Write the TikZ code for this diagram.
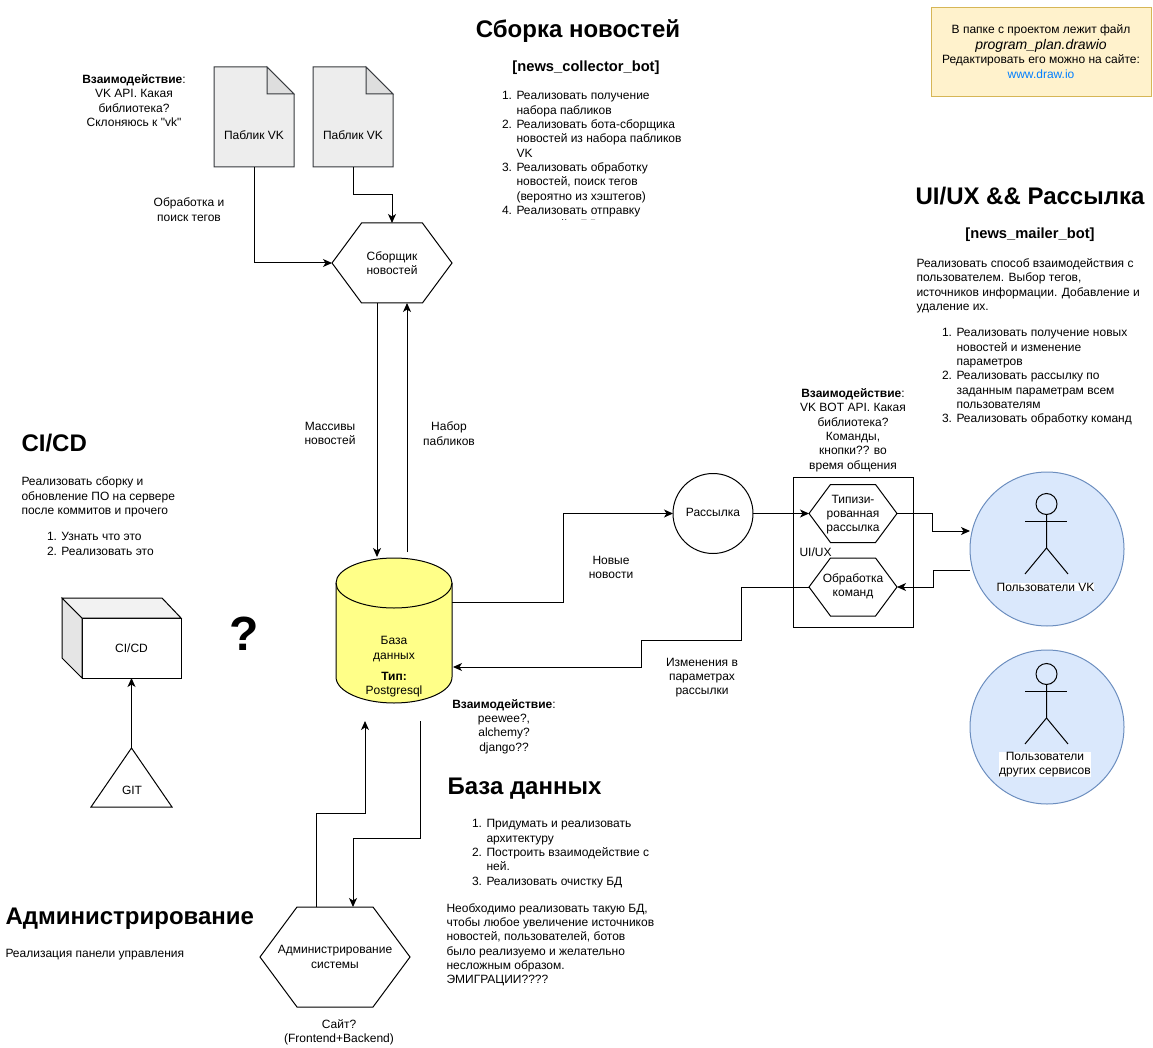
\documentclass[tikz,border=0pt]{standalone}
\usepackage{fontspec}
\setmainfont[Ligatures=TeXOff]{Liberation Sans}
\usetikzlibrary{arrows.meta, shapes.symbols}
\definecolor{notefill}{HTML}{FFF2CC}
\definecolor{noteline}{HTML}{D6B656}
\definecolor{userfill}{HTML}{DAE8FC}
\definecolor{userline}{HTML}{6C8EBF}
\definecolor{dbfill}{HTML}{FFFF88}
\definecolor{paperline}{HTML}{36393D}
\definecolor{linkblue}{HTML}{007FFF}
\tikzset{
  txt/.style={font=\fontsize{12}{14.33}\selectfont, align=center, inner sep=0pt},
  ltxt/.style={txt, align=left, anchor=north west},
  head/.style={font=\bfseries\fontsize{24}{28}\selectfont, inner sep=0pt},
  subhead/.style={font=\bfseries\fontsize{14.7}{16}\selectfont, inner sep=0pt},
  hexa/.style={draw, fill=white, shape=signal, signal to=west and east, signal pointer angle=107, inner sep=0pt, outer sep=0pt},
  arr/.style={-{Stealth[length=9pt,width=8pt,inset=2.5pt]}},
  paper/.style={draw=paperline, fill=black!7},
  fold/.style={draw=paperline, fill=black!13},
  users/.style={circle, draw=userline, fill=userfill, minimum size=154pt, inner sep=0pt, outer sep=0pt},
  whitetxt/.style={txt, fill=white}
}
\begin{document}
\begin{tikzpicture}[x=1pt,y=-1pt,line width=1pt]
\useasboundingbox (0,0) rectangle (1153,1048);
% top left: sources
\node[minimum width=80pt,minimum height=100pt,outer sep=0pt] (pub1) at (254,117) {};
\node[minimum width=80pt,minimum height=100pt,outer sep=0pt] (pub2) at (353,117) {};
\draw[paper] (pub1.north west) -- ++(53,0) -- ++(27,27) -- (pub1.south east) -- (pub1.south west) -- cycle;
\draw[fold] (pub1.north west) ++(53,0) -- ++(27,27) -- ++(-27,0) -- cycle;
\draw[paper] (pub2.north west) -- ++(53,0) -- ++(27,27) -- (pub2.south east) -- (pub2.south west) -- cycle;
\draw[fold] (pub2.north west) ++(53,0) -- ++(27,27) -- ++(-27,0) -- cycle;
\node[txt] (pub1txt) at (254,135.5) {Паблик VK};
\node[txt] (pub2txt) at (353,135.5) {Паблик VK};
\node[txt] (vkapi) at (134,100.5) {\textbf{Взаимодействие}:\\VK API. Какая\\библиотека?\\Склоняюсь к "vk"};
\node[txt] (tags) at (189,209.5) {Обработка и\\поиск тегов};
\node[hexa,minimum width=120pt,minimum height=80pt] (coll) at (392,263) {};
\node[txt] (colltxt) at (392,263) {Сборщик\\новостей};
\draw[arr] (pub1.south) |- (coll.west);
\draw[arr] (pub2.south) -- ++(0,28) -| (coll.north);
% collector text
\node[head] (collhead) at (578,31) {Сборка новостей};
\node[subhead] (collbot) at (586,67.5) {[news\_collector\_bot]};
\begin{scope}
\clip (450,80) rectangle (750,220);
\node[ltxt] (colllist) at (516,91) {\llap{1. }Реализовать получение\\набора пабликов\\\llap{2. }Реализовать бота-сборщика\\новостей из набора пабликов\\VK\\\llap{3. }Реализовать обработку\\новостей, поиск тегов\\(вероятно из хэштегов)\\\llap{4. }Реализовать отправку\\новостей в БД};
\end{scope}
% database
\node[minimum width=116pt,minimum height=145pt,outer sep=0pt] (db) at (394,630.5) {};
\draw[fill=dbfill] (336,583) arc[start angle=180,end angle=0,x radius=58pt,y radius=25pt] -- (452,677) arc[start angle=0,end angle=-180,x radius=58pt,y radius=26pt] -- cycle;
\draw (336,583) arc[start angle=180,end angle=360,x radius=58pt,y radius=25pt];
\node[txt] (dbname) at (394,649) {База\\данных};
\node[txt] (dbtype) at (394,684.5) {\textbf{Тип:}\\Postgresql};
\coordinate (dbin) at (377,557);
\coordinate (dbout) at (407,552);
\coordinate (dbnews) at (452,602);
\coordinate (dbback) at (453,667);
\draw[arr] (dbin |- coll.south) -- (dbin);
\draw[arr] (dbout) -- (dbout |- coll.south);
\node[txt] (massive) at (330,433.5) {Массивы\\новостей};
\node[txt] (nabor) at (449,433.5) {Набор\\пабликов};
\node[txt] (dbapi) at (504,726.5) {\textbf{Взаимодействие}:\\peewee?,\\alchemy?\\django??};
% mailing
\node[circle,draw,minimum size=80pt,inner sep=0pt,outer sep=0pt] (mail) at (713,513.5) {};
\node[txt] (mailtxt) at (713,512.5) {Рассылка};
\node[draw,minimum width=120pt,minimum height=150pt,outer sep=0pt] (uibox) at (853,552) {};
\node[hexa,minimum width=88pt,minimum height=58pt] (hex1) at (853,513.5) {};
\node[hexa,minimum width=88pt,minimum height=58pt] (hex2) at (853,587) {};
\node[txt] (hex1txt) at (853,514.5) {Типизи-\\рованная\\рассылка};
\node[txt] (hex2txt) at (853,586) {Обработка\\команд};
\node[txt,anchor=west] (uilabel) at (799,552) {UI/UX};
\node[txt] (botapi) at (853,430) {\textbf{Взаимодействие}:\\VK BOT API. Какая\\библиотека?\\Команды,\\кнопки?? во\\время общения};
\node[txt] (newnews) at (611,567.5) {Новые\\новости};
\node[txt] (params) at (702,677.5) {Изменения в\\параметрах\\рассылки};
\draw[arr] (dbnews) -- ++(111,0) |- (mail.west);
\draw[arr] (mail.east) -- (hex1.west);
\draw[arr] (hex2.west) -- ++(-68,0) -- ++(0,53) -- ++(-100,0) |- (dbback);
% users
\node[users] (vkusers) at (1047,549) {};
\node[users] (otherusers) at (1047,727) {};
\coordinate (vkin) at (970,531);
\coordinate (vkout) at (970,570);
\draw[arr] (hex1.east) -- ++(35,0) |- (vkin);
\draw[arr] (vkout) -- ++(-37,0) |- (hex2.east);
\draw (1046.5,504) circle[radius=10.5pt];
\draw (1046.5,514.5) -- (1046.5,548) -- (1025,574);
\draw (1046.5,548) -- (1068,574);
\draw (1025,521) -- (1067,521);
\draw (1046.5,674) circle[radius=10.5pt];
\draw (1046.5,684.5) -- (1046.5,718) -- (1025,744);
\draw (1046.5,718) -- (1068,744);
\draw (1025,691) -- (1067,691);
\node[whitetxt] (vklabel) at (1045.5,587) {Пользователи VK};
\node[whitetxt] (otherlabel) at (1045,764.5) {Пользователи\\других сервисов};
\node[head] (uihead) at (1030,196) {UI/UX \&\& Рассылка};
\node[subhead] (uibot) at (1030,234.5) {[news\_mailer\_bot]};
\node[ltxt] (uipara) at (916,258) {Реализовать способ взаимодействия с\\пользователем. Выбор тегов,\\источников информации. Добавление и\\удаление их.};
\node[ltxt] (uilist) at (956,328) {\llap{1. }Реализовать получение новых\\новостей и изменение\\параметров\\\llap{2. }Реализовать рассылку по\\заданным параметрам всем\\пользователям\\\llap{3. }Реализовать обработку команд};
% note
\node[draw=noteline,fill=notefill,minimum width=220pt,minimum height=89pt,outer sep=0pt] (note) at (1041,52.5) {};
\node[txt] (notetext) at (1041,51.5) {В папке с проектом лежит файл\\[2pt]{\itshape\fontsize{14}{14.33}\selectfont program\_plan.drawio}\\Редактировать его можно на сайте:\\[0.5pt]\textcolor{linkblue}{www.draw.io}};
% ci/cd
\node[head,anchor=west] (cihead) at (21,443) {CI/CD};
\node[ltxt] (cipara) at (21,476.5) {Реализовать сборку и\\обновление ПО на сервере\\после коммитов и прочего};
\node[ltxt] (cilist) at (61,532) {\llap{1. }Узнать что это\\\llap{2. }Реализовать это};
\node[txt,draw,fill=white,minimum width=99pt,minimum height=60pt,outer sep=0pt] (cicd) at (131.5,648) {CI/CD};
\draw[fill=black!10] (cicd.north west) -- ++(-20,-20) -- ++(0,60) -- (cicd.south west) -- cycle;
\draw[fill=black!5] (cicd.north west) -- ++(-20,-20) -- ++(100,0) -- (cicd.north east) -- cycle;
\coordinate (gittop) at (131.5,748);
\draw[fill=white] (gittop) -- (172,807) -- (91,807) -- cycle;
\node[txt] (git) at (132,790) {GIT};
\draw[arr] (gittop) -- (gittop |- cicd.south);
\node[font=\bfseries\fontsize{48}{50}\selectfont,inner sep=0pt] (quest) at (244,634) {?};
% db text
\node[head,anchor=west] (dbhead) at (447,789) {База данных};
\node[ltxt] (dblist) at (486,819) {\llap{1. }Придумать и реализовать\\архитектуру\\\llap{2. }Построить взаимодействие с\\ней.\\\llap{3. }Реализовать очистку БД};
\node[ltxt] (dbpara) at (446,903) {Необходимо реализовать такую БД,\\чтобы любое увеличение источников\\новостей, пользователей, ботов\\было реализуемо и желательно\\несложным образом.\\ЭМИГРАЦИИ????};
% admin
\node[head,anchor=west] (adminhead) at (5,919) {Администрирование};
\node[txt,anchor=west] (adminpara) at (5,955) {Реализация панели управления};
\node[hexa,minimum width=150pt,minimum height=100pt] (admin) at (335,957) {};
\node[txt] (admintxt) at (335,957) {Администрирование\\системы};
\node[txt] (site) at (339,1032.5) {Сайт?\\(Frontend+Backend)};
\coordinate (dbup) at (365,721);
\coordinate (dbdown) at (420,721);
\draw[arr] (admin.north -| 316,0) -- (316,813) -- (365,813) -- (dbup);
\draw[arr] (dbdown) -- (420,838) -- (353,838) -- (353,907);
\end{tikzpicture}
\end{document}
